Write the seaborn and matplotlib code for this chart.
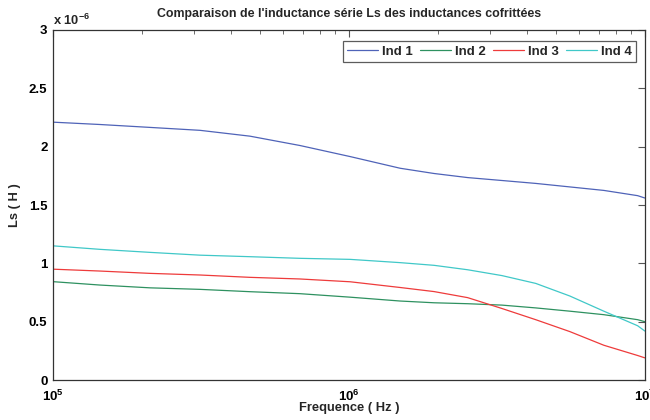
import matplotlib
matplotlib.use("Agg")
import matplotlib.pyplot as plt
import seaborn as sns
import pandas as pd
import numpy as np
from matplotlib.ticker import LogLocator, LogFormatterMathtext, NullFormatter

# frequency points (Hz) and inductance values (x 1e-6 H)
freq = [1e5, 1.44e5, 2.13e5, 3.14e5, 4.63e5, 6.83e5, 1.01e6, 1.49e6,
        1.94e6, 2.52e6, 3.29e6, 4.28e6, 5.58e6, 7.27e6, 9.46e6, 1e7]
ind1 = [2.21, 2.19, 2.165, 2.14, 2.09, 2.01, 1.915, 1.815,
        1.77, 1.735, 1.71, 1.685, 1.655, 1.625, 1.58, 1.56]
ind2 = [0.843, 0.814, 0.79, 0.777, 0.757, 0.74, 0.71, 0.677,
        0.662, 0.654, 0.642, 0.618, 0.59, 0.56, 0.517, 0.50]
ind3 = [0.95, 0.934, 0.914, 0.90, 0.88, 0.866, 0.842, 0.793,
        0.758, 0.706, 0.613, 0.517, 0.415, 0.298, 0.21, 0.19]
ind4 = [1.15, 1.12, 1.094, 1.07, 1.057, 1.043, 1.034, 1.006,
        0.983, 0.945, 0.895, 0.828, 0.72, 0.59, 0.465, 0.42]
labels = ["Ind 1", "Ind 2", "Ind 3", "Ind 4"]
colors = ["#4F63B8", "#2E9160", "#EE3B3B", "#40C8C8"]

df = pd.concat([
    pd.DataFrame({"Frequence": freq, "Ls": vals, "Inductance": lab})
    for lab, vals in zip(labels, [ind1, ind2, ind3, ind4])
])

sns.set_theme(style="white")
plt.rcParams["font.family"] = ["Liberation Sans", "DejaVu Sans"]
plt.rcParams["mathtext.fontset"] = "custom"
plt.rcParams["mathtext.rm"] = "Liberation Sans:bold"
plt.rcParams["mathtext.bf"] = "Liberation Sans:bold"
plt.rcParams["mathtext.default"] = "bf"

fig = plt.figure(figsize=(6.5, 4.2), dpi=100)
ax = fig.add_axes([0.0815, 0.0952, 0.9105, 0.8334])

sns.lineplot(data=df, x="Frequence", y="Ls", hue="Inductance",
             palette=colors, linewidth=0.9, ax=ax, legend=False)

ax.set_xscale("log")
ax.set_xlim(1e5, 1e7)
ax.set_ylim(0, 3)
ax.set_yticks([0, 0.5, 1, 1.5, 2, 2.5, 3])
ax.set_yticklabels(["0", "0.5", "1", "1.5", "2", "2.5", "3"])
ax.xaxis.set_major_locator(LogLocator(base=10))
ax.xaxis.set_major_formatter(LogFormatterMathtext())
ax.xaxis.set_minor_locator(LogLocator(base=10, subs=np.arange(2, 10)))
ax.xaxis.set_minor_formatter(NullFormatter())

ax.tick_params(axis="both", which="both", direction="in", top=True, right=True,
               labelsize=9.5, colors="black", pad=4)
ax.tick_params(axis="x", which="major", pad=6)
ax.tick_params(axis="both", which="major", length=5, width=0.8, color="#555555")
ax.tick_params(axis="x", which="minor", length=3, width=0.6, color="#555555")
for lab in ax.get_yticklabels() + ax.get_xticklabels():
    lab.set_fontweight("bold")

for sp in ax.spines.values():
    sp.set_color("#333333")
    sp.set_linewidth(0.9)

ax.set_xlabel("Frequence ( Hz )", fontsize=9.3, fontweight="bold", labelpad=-1)
ax.set_ylabel("Ls ( H )", fontsize=9.3, fontweight="bold", labelpad=6)
ax.set_title("Comparaison de l'inductance série Ls des inductances cofrittées",
             fontsize=8.9, fontweight="bold", pad=9)
ax.text(0.0, 1.005, r"x 10$^{-6}$", transform=ax.transAxes, fontsize=9.3,
        fontweight="bold", va="bottom", ha="left")

handles = [plt.Line2D([], [], color=c, linewidth=0.9) for c in colors]
leg = ax.legend(handles, labels, ncol=4, loc="upper right",
                bbox_to_anchor=(0.99, 0.975), frameon=True, fancybox=False,
                prop={"weight": "bold", "size": 9.5}, handlelength=2.4,
                handletextpad=0.3, columnspacing=0.5, borderpad=0.3,
                borderaxespad=0.2)
leg.get_frame().set_edgecolor("#333333")
leg.get_frame().set_linewidth(0.9)

fig.savefig("out.png", dpi=100, facecolor="white")
